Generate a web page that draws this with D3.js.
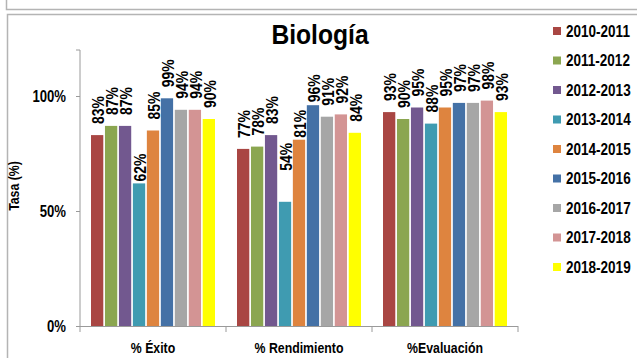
<!DOCTYPE html>
<html>
<head>
<meta charset="utf-8">
<script src="https://cdn.jsdelivr.net/npm/d3@7"></script>
<style>
  html, body { margin: 0; padding: 0; background: #fff; }
  svg text { font-family: "Liberation Sans", Arial, sans-serif; font-weight: bold; fill: #000; }
</style>
</head>
<body>
<svg id="chart" width="637" height="358"></svg>
<script>
// Indicators (x-axis groups)
const categories = ["% Éxito", "% Rendimiento", "%Evaluación"];
// Academic years (series)
const seasons = ["2010-2011", "2011-2012", "2012-2013", "2013-2014", "2014-2015",
                 "2015-2016", "2016-2017", "2017-2018", "2018-2019"];
// Rates per indicator, one value per academic year (percent)
const exito       = [83, 87, 87, 62, 85, 99, 94, 94, 90];
const rendimiento = [77, 78, 83, 54, 81, 96, 91, 92, 84];
const evaluacion  = [93, 90, 95, 88, 95, 97, 97, 98, 93];
const yTicks = [0, 50, 100];
const title = "Biología";
const yTitle = "Tasa (%)";

const seriesByCategory = [exito, rendimiento, evaluacion];
const colors = ["#A94643", "#8BA650", "#72588F", "#3F9BB1", "#DE843F",
                "#4471A6", "#A6A6A6", "#D39494", "#FFFF00"];
const FONT = '"Liberation Sans", Arial, sans-serif';

// Condense text horizontally (narrow-face look) by squeezing its advance length
function condense(sel, k = 0.82) {
  sel.each(function () {
    const w = this.getComputedTextLength();
    d3.select(this).attr("textLength", w * k).attr("lengthAdjust", "spacingAndGlyphs");
  });
}

// Small label nudges (px, positive = downward) where labels were hand-placed
const labelShift = { "1-3": -20, "1-4": 9, "1-5": 8, "0-3": 9 };

const svg = d3.select("#chart");

// Frames: bottom edge of the box above, and the chart's own box
svg.append("path").attr("d", "M6.5,0 V9.5 H637")
  .attr("fill", "none").attr("stroke", "#B4B4B4").attr("stroke-width", 1.5);
svg.append("path").attr("d", "M637,14.5 H7.5 V358")
  .attr("fill", "none").attr("stroke", "#B4B4B4").attr("stroke-width", 1.5);

const plot = { left: 80, right: 518, top: 50, bottom: 326 };

const x0 = d3.scaleBand().domain(categories).range([plot.left, plot.right]);
const x1 = d3.scaleBand().domain(seasons).range([11, x0.bandwidth() - 11]).paddingInner(0.12);
const y = d3.scaleLinear().domain([0, 120]).range([plot.bottom, plot.top]);
const color = d3.scaleOrdinal().domain(seasons).range(colors);

// Bars
const groups = svg.append("g").selectAll("g").data(categories).join("g")
  .attr("transform", d => `translate(${x0(d)},0)`);

groups.selectAll("rect")
  .data((c, ci) => seriesByCategory[ci].map((v, i) => ({ season: seasons[i], v })))
  .join("rect")
  .attr("x", d => x1(d.season))
  .attr("y", d => y(d.v))
  .attr("width", x1.bandwidth())
  .attr("height", d => y(0) - y(d.v))
  .attr("fill", d => color(d.season));

// Value labels, rotated above each bar
groups.selectAll("text.val")
  .data((c, ci) => seriesByCategory[ci].map((v, i) => ({ season: seasons[i], v, key: ci + "-" + i })))
  .join("text")
  .attr("class", "val")
  .attr("font-size", 17)
  .attr("text-anchor", "start")
  .attr("dy", "0.36em")
  .attr("transform", d => {
    const cx = x1(d.season) + x1.bandwidth() / 2 + 1;
    const ty = y(d.v) - 11 + (labelShift[d.key] || 0);
    return `translate(${cx},${ty}) rotate(-90)`;
  })
  .text(d => d.v + "%")
  .call(condense);

// Y axis
const yAxis = d3.axisLeft(y).tickValues(yTicks).tickSize(4).tickFormat(d => d + "%");
const gy = svg.append("g").attr("transform", `translate(${plot.left},0)`).call(yAxis);
gy.select(".domain").attr("d", `M-4,${plot.top}H0V${plot.bottom + 6}`).attr("stroke", "#9A9A9A");
gy.selectAll(".tick line").attr("stroke", "#9A9A9A");
gy.selectAll(".tick text").attr("x", -14).attr("font-size", 16)
  .style("font-family", FONT).style("font-weight", "bold").call(condense);

// X axis
const xAxis = d3.axisBottom(x0).tickSize(0).tickPadding(16);
const gx = svg.append("g").attr("transform", `translate(0,${plot.bottom})`).call(xAxis);
gx.select(".domain").attr("d", `M${plot.left},0.5H${plot.right}`).attr("stroke", "#9A9A9A");
gx.selectAll(".tick text").attr("font-size", 15)
  .style("font-family", FONT).style("font-weight", "bold").call(condense);
// Group separators
svg.append("g").selectAll("line").data(categories).join("line")
  .attr("x1", d => x0(d) + x0.bandwidth()).attr("x2", d => x0(d) + x0.bandwidth())
  .attr("y1", plot.bottom).attr("y2", plot.bottom + 6)
  .attr("stroke", "#9A9A9A");

// Title
svg.append("text").attr("x", 320).attr("y", 44).attr("text-anchor", "middle")
  .attr("font-size", 28).text(title).call(condense, 0.88);

// Y axis title
svg.append("text").attr("transform", "translate(19,186) rotate(-90)")
  .attr("text-anchor", "middle").attr("font-size", 15).text(yTitle).call(condense);

// Legend (text squeezed with a horizontal scale so its box stays inside the frame)
const squeeze = 0.82;
const legend = svg.append("g").selectAll("g").data(seasons).join("g")
  .attr("transform", (d, i) => `translate(553,${31 + i * 29.5})`);
legend.append("rect").attr("x", 0).attr("y", -4).attr("width", 8).attr("height", 8)
  .attr("fill", d => color(d));
legend.append("text")
  .attr("transform", `scale(${squeeze},1)`)
  .attr("x", 13 / squeeze).attr("dy", "0.36em").attr("font-size", 16.5).text(d => d);
</script>
</body>
</html>
